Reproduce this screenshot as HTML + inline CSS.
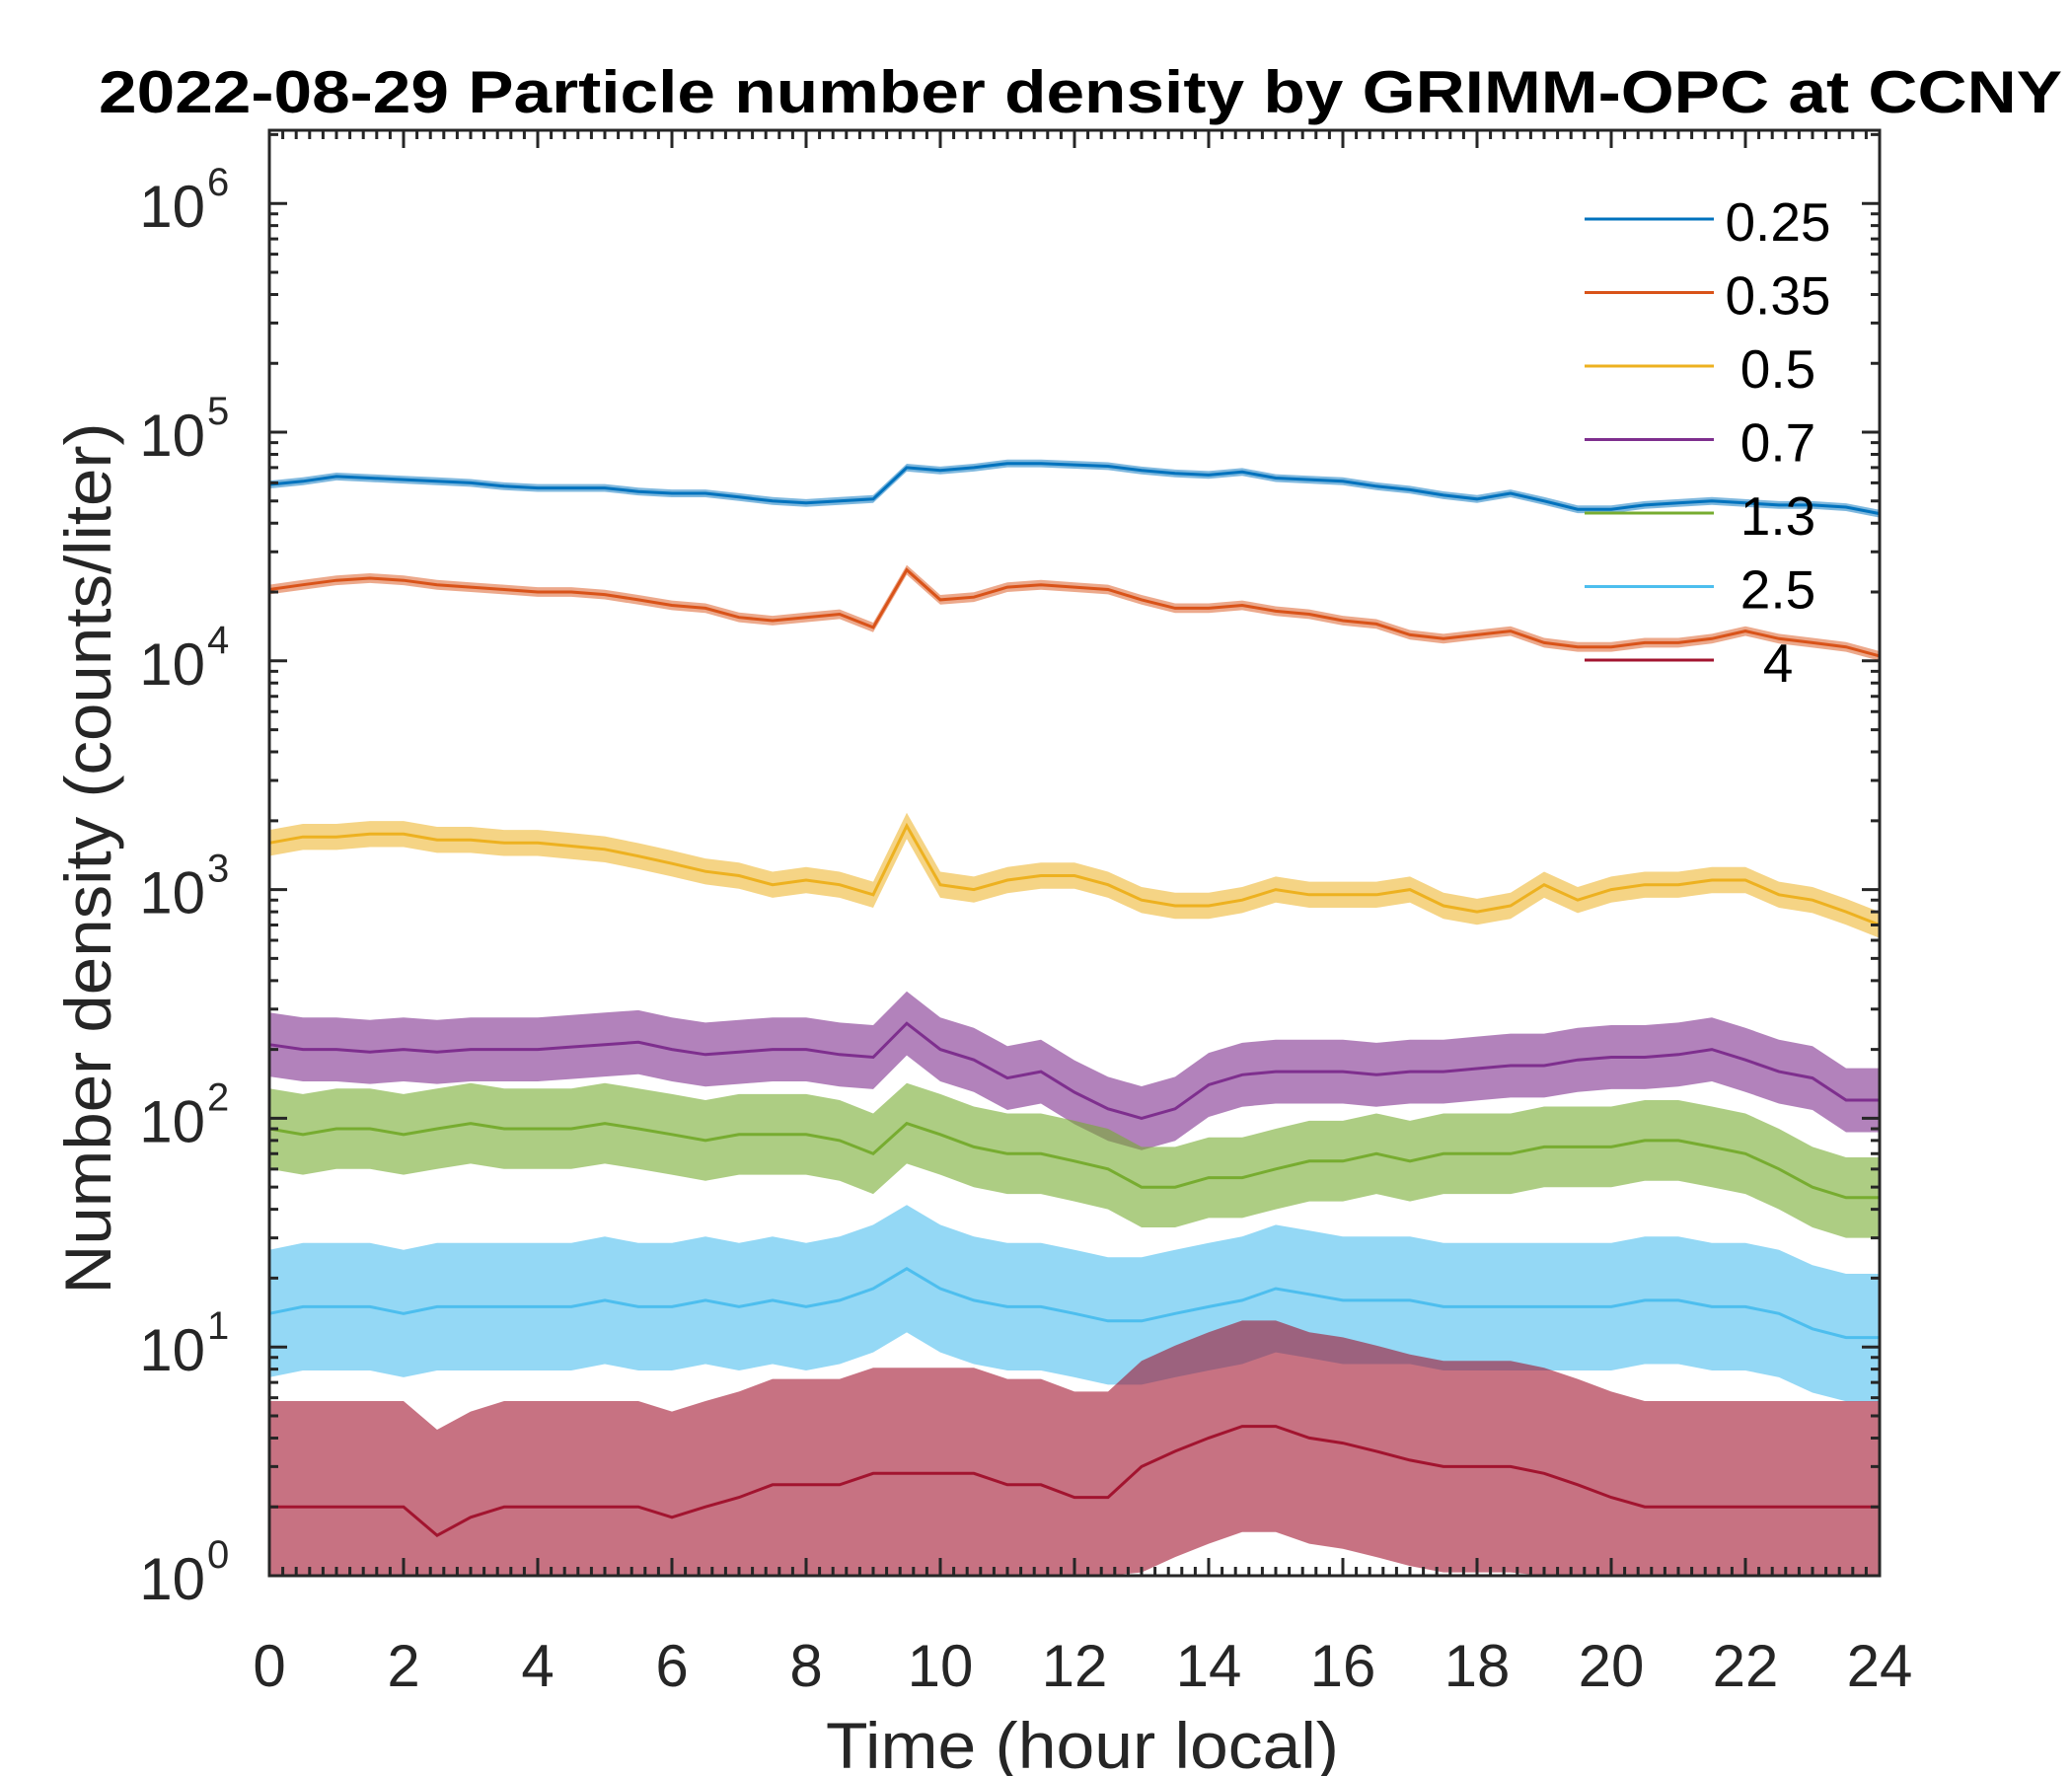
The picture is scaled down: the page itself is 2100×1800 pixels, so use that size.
<!DOCTYPE html>
<html><head><meta charset="utf-8"><style>
html,body{margin:0;padding:0;background:#fff;}
svg{display:block;font-family:"Liberation Sans",Arial,sans-serif;}
</style></head><body>
<svg id="chart" width="2100" height="1800" viewBox="0 0 2100 1800" xmlns="http://www.w3.org/2000/svg">
<rect x="0" y="0" width="2100" height="1800" fill="#fff"/>
<text x="1095" y="114" text-anchor="middle" font-size="60" font-weight="bold" fill="#000" textLength="1990" lengthAdjust="spacingAndGlyphs">2022-08-29 Particle number density by GRIMM-OPC at CCNY</text>
<text transform="translate(112,870) rotate(-90)" text-anchor="middle" font-size="66" fill="#262626" textLength="883" lengthAdjust="spacingAndGlyphs">Number density (counts/liter)</text>
<text x="1097" y="1792" text-anchor="middle" font-size="66" fill="#262626" textLength="520" lengthAdjust="spacingAndGlyphs">Time (hour local)</text>
<g id="series"></g>
<g id="axes"></g>
<g id="legend"></g>
</svg>
<script>
const times = [];
for (let i = 0; i <= 48; i++) times.push(i * 0.5);
const seriesNames = ["0.25","0.35","0.5","0.7","1.3","2.5","4"];
const seriesColors = ["#0072BD","#D95319","#EDB120","#7E2F8E","#77AC30","#4DBEEE","#A2142F"];
const s025 = [59000,61000,64000,63000,62000,61000,60000,58000,57000,57000,
 57000,55000,54000,54000,52000,50000,49000,50000,51000,70000,
 68000,70000,73000,73000,72000,71000,68000,66000,65000,67000,
 63000,62000,61000,58000,56000,53000,51000,54000,50000,46000,
 46000,48000,49000,50000,49000,48000,48000,47000,44000];
const s035 = [20500,21500,22500,23000,22500,21500,21000,20500,20000,20000,
 19500,18500,17500,17000,15500,15000,15500,16000,14000,25000,
 18500,19000,21000,21500,21000,20500,18500,17000,17000,17500,
 16500,16000,15000,14500,13000,12500,13000,13500,12000,11500,
 11500,12000,12000,12500,13500,12500,12000,11500,10500];
const s05 = [1600,1700,1700,1750,1750,1650,1650,1600,1600,1550,
 1500,1400,1300,1200,1150,1050,1100,1050,950,1900,
 1050,1000,1100,1150,1150,1050,900,850,850,900,
 1000,950,950,950,1000,850,800,850,1050,900,
 1000,1050,1050,1100,1100,950,900,800,700];
const s07 = [210,200,200,195,200,195,200,200,200,205,
 210,215,200,190,195,200,200,190,185,260,
 200,180,150,160,130,110,100,110,140,155,
 160,160,160,155,160,160,165,170,170,180,
 185,185,190,200,180,160,150,120,120];
const s13 = [90,85,90,90,85,90,95,90,90,90,
 95,90,85,80,85,85,85,80,70,95,
 85,75,70,70,65,60,50,50,55,55,
 60,65,65,70,65,70,70,70,75,75,
 75,80,80,75,70,60,50,45,45];
const s25 = [14,15,15,15,14,15,15,15,15,15,
 16,15,15,16,15,16,15,16,18,22,
 18,16,15,15,14,13,13,14,15,16,
 18,17,16,16,16,15,15,15,15,15,
 15,16,16,15,15,14,12,11,11];
const s4 = [2,2,2,2,2,1.5,1.8,2,2,2,
 2,2,1.8,2,2.2,2.5,2.5,2.5,2.8,2.8,
 2.8,2.8,2.5,2.5,2.2,2.2,3,3.5,4,4.5,
 4.5,4,3.8,3.5,3.2,3,3,3,2.8,2.5,
 2.2,2,2,2,2,2,2,2,2];
const seriesSpread = [1.04,1.05,1.14,1.38,1.5,1.9,2.9];
const xTicks = [0,2,4,6,8,10,12,14,16,18,20,22,24];
const yDecades = [0,1,2,3,4,5,6];

const allSeries = [s025,s035,s05,s07,s13,s25,s4];
const bandOpacity = [0.5,0.5,0.55,0.6,0.6,0.6,0.6];
const X0 = 273, X1 = 1905, Y0 = 1597, DEC = 231.8, YMAXLOG = 6.32;
const Ytop = Y0 - DEC * YMAXLOG;
const xs = t => X0 + (t / 24) * (X1 - X0);
const ys = v => { const l = Math.log10(Math.max(v, 1)); return Y0 - Math.min(l, YMAXLOG) * DEC; };
const NS = "http://www.w3.org/2000/svg";
const mk = (tag, attrs, parent) => { const e = document.createElementNS(NS, tag); for (const k in attrs) e.setAttribute(k, attrs[k]); parent.appendChild(e); return e; };

const sg = document.getElementById('series');
allSeries.forEach((arr, si) => {
  const sp = seriesSpread[si];
  let top = arr.map((v, i) => xs(times[i]).toFixed(1) + ',' + ys(v * sp).toFixed(1));
  let bot = arr.map((v, i) => xs(times[i]).toFixed(1) + ',' + ys(v / sp).toFixed(1)).reverse();
  const band = mk('polygon', {points: top.concat(bot).join(' '), fill: seriesColors[si], 'fill-opacity': bandOpacity[si], stroke: 'none'}, sg);
  
  
  const line = mk('polyline', {points: arr.map((v, i) => xs(times[i]).toFixed(1) + ',' + ys(v).toFixed(1)).join(' '), fill: 'none', stroke: seriesColors[si], 'stroke-width': 3}, sg);
  
  
});

const ag = document.getElementById('axes');
const box = mk('rect', {x: X0, y: Ytop, width: X1 - X0, height: Y0 - Ytop, fill: 'none', stroke: '#262626', 'stroke-width': 3}, ag);


let d = '';
for (let k = 0; k <= 120; k++) {
  const t = k * 0.2, x = xs(t), major = (k % 10 === 0), L = major ? 18 : 9;
  d += `M${x},${Y0}v${-L}M${x},${Ytop}v${L}`;
}
for (let dec = 0; dec <= 6; dec++) {
  for (let m = 1; m <= 9; m++) {
    const l = dec + Math.log10(m);
    if (l > YMAXLOG) break;
    const y = Y0 - l * DEC, L = m === 1 ? 18 : 9;
    d += `M${X0},${y}h${L}M${X1},${y}h${-L}`;
  }
}
const ticks = mk('path', {d: d, stroke: '#262626', 'stroke-width': 3, fill: 'none'}, ag);


xTicks.forEach(t => {
  const tx = mk('text', {x: xs(t), y: 1709, 'text-anchor': 'middle', 'font-size': 60, fill: '#262626'}, ag);
  tx.textContent = String(t);
  
  
});
yDecades.forEach(p => {
  const y = Y0 - p * DEC;
  const tx = mk('text', {x: 208, y: y + 24, 'text-anchor': 'end', 'font-size': 60, fill: '#262626'}, ag);
  tx.textContent = '10';
  
  
  const sup = mk('text', {x: 210, y: y - 8, 'text-anchor': 'start', 'font-size': 40, fill: '#262626'}, ag);
  sup.textContent = String(p);
  
  
});

const lg = document.getElementById('legend');
seriesNames.forEach((n, i) => {
  const y = 225 + i * 74.5;
  const ln = mk('line', {x1: 1606, x2: 1737, y1: y - 3, y2: y - 3, stroke: seriesColors[i], 'stroke-width': 3}, lg);
  
  
  const tx = mk('text', {x: 1802, y: y + 19, 'text-anchor': 'middle', 'font-size': 55, fill: '#000'}, lg);
  tx.textContent = n;
  
  
});
</script>
</body></html>
